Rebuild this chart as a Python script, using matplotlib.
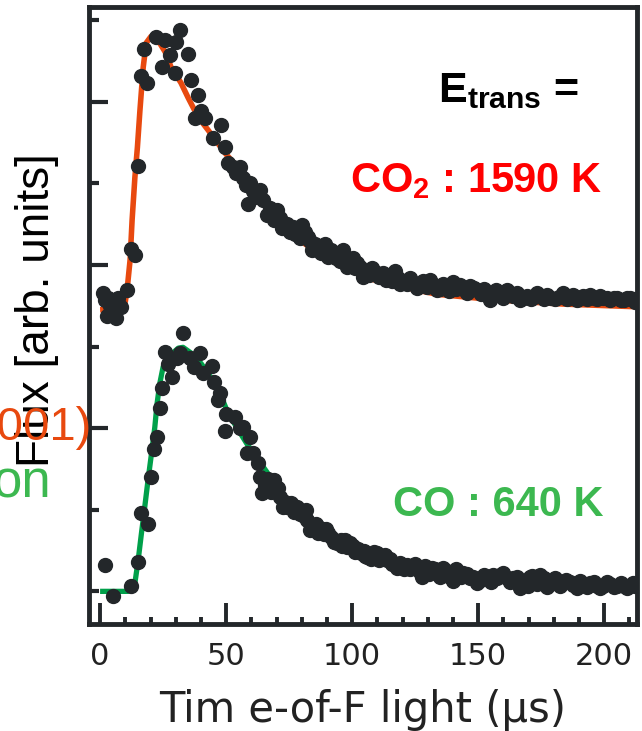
import matplotlib
matplotlib.use("Agg")
import matplotlib.pyplot as plt
from matplotlib.ticker import FixedLocator, NullFormatter

plt.rcParams["font.family"] = ["Liberation Sans", "DejaVu Sans"]
plt.rcParams["mathtext.fontset"] = "custom"
plt.rcParams["mathtext.rm"] = "Liberation Sans"
plt.rcParams["mathtext.bf"] = "Liberation Sans:bold"

# time-of-flight axis (us)
x_ticks = [0, 50, 100, 150, 200]

# CO2 (upper trace, offset) - measured points
co2_t = [1.2, 2.0, 2.8, 3.2, 4.0, 5.2, 6.3, 7.1, 8.3, 10.7, 12.3, 13.9, 15.1, 16.3,
         17.5, 18.7, 22.2, 24.6, 25.8, 27.8, 29.8, 30.2, 31.7, 34.9, 36.1, 37.7,
         38.9, 40.1, 41.7, 44.8, 48.0, 49.6, 50.8, 52.8, 55.6, 56.7, 58.7, 59.5,
         60.7, 62.3, 64.7, 66.3, 70.2, 72.2, 76.6, 78.2, 80.2, 82.5, 84.1, 86.1,
         89.3, 92.5, 96.4, 98.0, 100.4, 102.0, 104.4, 107.9, 112.3, 117.1, 119.0,
         123.0, 127.0, 131.0, 133.7, 136.1, 140.1, 144.0, 146.8, 149.6, 152.4,
         154.8, 158.3, 161.5, 163.9, 166.7, 169.4, 173.4, 177.4, 180.6, 183.7,
         186.5, 189.3, 191.7, 194.4, 197.2, 199.6, 202.4, 205.2, 207.9, 210.3, 212.3,
         54.0, 57.7, 61.5, 63.5, 67.5, 68.8, 71.2, 74.0, 75.3, 77.4, 79.3, 81.3,
         83.3, 85.1, 87.5, 88.3, 90.6, 91.5, 93.5, 95.0, 97.2, 99.2, 101.2, 103.2,
         105.5, 106.8, 109.0, 110.5, 113.5, 115.0, 116.0, 118.0, 120.3, 121.6,
         124.5, 125.8, 128.3, 129.5, 132.3, 134.9, 137.3, 138.6, 141.3, 142.7,
         145.5, 148.2, 151.0, 153.5, 156.0, 157.0, 159.8, 160.2, 162.7, 165.2,
         168.0, 170.8, 172.2, 174.8, 176.2, 178.8, 182.2, 185.2, 187.8, 190.5,
         193.0, 195.8, 198.4, 201.0, 203.8, 206.5, 209.0, 211.5]
co2_y = [3.65, 3.57, 3.38, 3.59, 3.50, 3.53, 3.35, 3.60, 3.48, 3.69, 4.20, 4.12, 5.21, 6.32,
         6.64, 6.23, 6.79, 6.42, 6.75, 6.57, 6.35, 6.73, 6.88, 6.59, 6.26, 5.80,
         6.08, 5.89, 5.80, 5.55, 5.71, 5.44, 5.25, 5.20, 5.20, 5.07, 4.75, 5.00,
         4.91, 4.88, 4.79, 4.61, 4.67, 4.45, 4.46, 4.42, 4.49, 4.34, 4.18, 4.20,
         4.26, 4.14, 4.18, 3.97, 4.09, 4.02, 3.85, 3.96, 3.90, 3.93, 3.77,
         3.84, 3.77, 3.82, 3.69, 3.76, 3.79, 3.71, 3.74, 3.69, 3.71,
         3.57, 3.64, 3.69, 3.62, 3.57, 3.62, 3.66, 3.63, 3.58, 3.65,
         3.60, 3.57, 3.62, 3.63, 3.58, 3.60, 3.57, 3.59, 3.57, 3.60, 3.54,
         5.12, 4.98, 4.83, 4.92, 4.70, 4.55, 4.58, 4.50, 4.40, 4.38, 4.33, 4.40,
         4.29, 4.26, 4.14, 4.22, 4.10, 4.18, 4.08, 4.05, 4.10, 4.01, 3.96, 3.98,
         3.93, 3.88, 3.91, 3.85, 3.82, 3.86, 3.80, 3.84, 3.80, 3.76,
         3.78, 3.72, 3.80, 3.73, 3.75, 3.70, 3.72, 3.68, 3.70, 3.75,
         3.66, 3.72, 3.64, 3.67, 3.62, 3.69, 3.59, 3.63, 3.66, 3.65,
         3.60, 3.58, 3.61, 3.62, 3.58, 3.60, 3.61, 3.58, 3.63, 3.60,
         3.58, 3.60, 3.62, 3.60, 3.60, 3.57, 3.59, 3.58]

# CO2 fit curve
co2_fit_t = [0, 8, 10, 10.7, 11.9, 12.7, 13.8, 14.8, 15.8, 17.1, 18.3, 20.2, 23.0, 25.8,
             28.2, 32.1, 34.9, 38.9, 42.9, 49.6, 55.6, 62.3, 68.7, 76.6, 82.1, 91.3,
             108.3, 125.8, 133.7, 157.5, 183.7, 210.3, 213]
co2_fit_y = [3.45, 3.46, 3.55, 3.69, 4.06, 4.55, 5.07, 5.44, 5.89, 6.42, 6.72, 6.80, 6.75, 6.61,
             6.42, 6.23, 6.05, 5.81, 5.65, 5.37, 5.16, 4.86, 4.63, 4.36, 4.24, 4.06,
             3.82, 3.69, 3.64, 3.57, 3.52, 3.49, 3.49]

# CO (lower trace) - measured points
co_t = [2.0, 5.2, 12.3, 15.1, 16.3, 19.0, 20.2, 21.4, 22.4, 23.6, 24.6, 25.6, 27.0, 28.4,
        30.6, 31.7, 32.9, 35.7, 37.3, 39.7, 40.9, 44.2, 45.2, 46.8, 47.6, 49.6, 50.0,
        53.6, 55.6, 56.7, 58.3, 59.5, 60.7, 62.7, 64.3, 67.5, 69.0, 70.6, 72.6, 74.2,
        78.2, 82.1, 83.3, 84.5, 87.3, 90.5, 94.0, 97.2, 99.2, 101.2, 103.6, 106.0,
        109.9, 111.9, 113.9, 115.9, 117.9, 119.8, 121.8, 123.8, 125.8, 127.8, 129.8,
        131.7, 134.1, 136.1, 138.1, 140.1, 142.1, 144.0, 146.8, 149.6, 151.6, 153.6,
        156.0, 158.7, 161.5, 163.9, 166.7, 168.7, 170.6, 172.6, 174.6, 177.4, 179.4,
        181.3, 183.7, 186.5, 189.3, 191.7, 194.4, 197.2, 199.6, 202.4, 205.2, 207.9,
        210.3, 212.3,
        63.5, 65.5, 66.5, 68.0, 71.5, 73.5, 75.6, 77.0, 79.5, 80.8, 81.5, 85.8,
        86.5, 88.8, 89.5, 91.5, 92.8, 95.5, 96.0, 98.0, 100.2, 102.3, 104.8, 105.0,
        107.5, 108.5, 110.5, 113.0, 115.0, 117.0, 119.0, 120.5, 122.8, 124.8,
        126.8, 128.8, 130.5, 133.0, 135.0, 137.0, 139.0, 141.0, 143.0, 145.5,
        148.0, 150.5, 152.5, 155.0, 157.5, 160.0, 162.5, 165.2, 167.5, 169.8,
        171.5, 173.5, 176.0, 178.5, 180.5, 182.5, 185.0, 187.8, 190.5, 193.0,
        195.8, 198.4, 201.0, 203.8, 206.5, 209.0, 211.5]
co_y = [0.32, -0.06, 0.06, 0.36, 0.96, 0.83, 1.40, 1.75, 1.89, 2.25, 2.49, 2.93, 2.79, 2.63,
        2.86, 2.92, 3.16, 2.86, 2.75, 2.92, 2.68, 2.76, 2.56, 2.34, 2.43, 1.97, 2.17,
        2.14, 2.00, 2.01, 1.70, 1.89, 1.69, 1.57, 1.20, 1.32, 1.36, 1.27, 1.03, 1.03,
        1.03, 0.87, 0.75, 0.78, 0.78, 0.71, 0.59, 0.63, 0.59, 0.48, 0.47, 0.42,
        0.47, 0.42, 0.38, 0.34, 0.29, 0.31, 0.32, 0.31, 0.29, 0.17, 0.26,
        0.29, 0.23, 0.29, 0.22, 0.13, 0.22, 0.23, 0.16, 0.10, 0.16, 0.17,
        0.20, 0.20, 0.16, 0.16, 0.04, 0.13, 0.17, 0.13, 0.20, 0.05, 0.11,
        0.13, 0.11, 0.11, 0.04, 0.09, 0.10, 0.07, 0.07, 0.09, 0.07, 0.06,
        0.07, 0.07,
        1.40, 1.30, 1.38, 1.22, 1.15, 1.10, 1.08, 0.97, 0.95, 0.92, 1.00, 0.82,
        0.72, 0.70, 0.77, 0.66, 0.60, 0.63, 0.55, 0.54, 0.56, 0.52, 0.50, 0.43,
        0.40, 0.48, 0.38, 0.45, 0.40, 0.34, 0.35, 0.27, 0.28, 0.34,
        0.24, 0.31, 0.21, 0.27, 0.18, 0.26, 0.18, 0.27, 0.18, 0.21,
        0.18, 0.13, 0.20, 0.12, 0.16, 0.22, 0.11, 0.18, 0.10, 0.07,
        0.19, 0.09, 0.16, 0.09, 0.16, 0.06, 0.14, 0.08, 0.13, 0.05,
        0.11, 0.04, 0.11, 0.05, 0.10, 0.04, 0.10]

# CO fit curve
co_fit_t = [0, 11.1, 13.8, 15.1, 16.4, 17.7, 19.0, 20.4, 21.7, 22.6, 23.7, 25.0, 27.0, 31.0,
            32.9, 36.1, 40.1, 44.0, 47.5, 50.8, 56.0, 58.2, 66.2, 72.6, 79.4, 89.3, 99.2,
            119.0, 138.9, 158.7, 178.6, 198.4, 213]
co_fit_y = [0.0, 0.0, 0.10, 0.38, 0.71, 1.03, 1.36, 1.69, 2.01, 2.30, 2.55, 2.75, 2.87, 2.98,
            2.99, 2.92, 2.79, 2.62, 2.43, 2.18, 1.92, 1.81, 1.46, 1.15, 0.96, 0.72, 0.56,
            0.36, 0.22, 0.15, 0.11, 0.09, 0.07]

dark = "#23272a"
orange = "#e8490f"
green_line = "#00a04a"
green_text = "#3cb850"

W, H = 642, 731
fig = plt.figure(figsize=(W / 100, H / 100), dpi=100)
ax = fig.add_axes([89 / W, 1 - 624 / H, (637 - 89) / W, (624 - 7) / H])

ax.plot(co2_fit_t, co2_fit_y, color=orange, lw=4, zorder=2, solid_capstyle="butt")
ax.plot(co_fit_t, co_fit_y, color=green_line, lw=3.8, zorder=2, solid_capstyle="butt")
ax.plot(co2_t, co2_y, "o", color=dark, ms=10, mec=dark, zorder=3)
ax.plot(co_t, co_y, "o", color=dark, ms=10, mec=dark, zorder=3)

ax.set_xlim(-4.4, 213)
ax.set_ylim(-0.40, 7.16)

for s in ax.spines.values():
    s.set_linewidth(3.5)
    s.set_color(dark)

ax.xaxis.set_major_locator(FixedLocator(x_ticks))
ax.xaxis.set_minor_locator(FixedLocator([t for t in range(10, 220, 10) if t % 50]))
ax.yaxis.set_major_locator(FixedLocator([2, 4, 6]))
ax.yaxis.set_minor_locator(FixedLocator([0, 1, 3, 5, 7]))
ax.yaxis.set_major_formatter(NullFormatter())
ax.tick_params(axis="x", which="major", direction="in", length=15, width=2.8,
               color=dark, labelsize=22, labelcolor="#222222", pad=13)
ax.tick_params(axis="x", which="minor", direction="in", length=5, width=2.8, color=dark)
ax.tick_params(axis="y", which="major", direction="in", length=14, width=3, color=dark)
ax.tick_params(axis="y", which="minor", direction="in", length=7, width=3, color=dark)
for lbl in ax.get_xticklabels():
    lbl.set_family("DejaVu Sans")

fig.text(363 / W, 1 - 722 / H, "Tim e-of-F light (µs)", ha="center", va="baseline",
         fontsize=30, color="#222222", family="DejaVu Sans")
fig.text(37 / W, 1 - 310 / H, "Flux [arb. units]", rotation=90, ha="center",
         va="center", fontsize=33, color="black")
fig.text(91 / W, 1 - 440 / H, "(001)", ha="right", va="baseline", fontsize=34,
         color=orange)
fig.text(51 / W, 1 - 498 / H, "on", ha="right", va="baseline", fontsize=38,
         color=green_text)

fig.text(438 / W, 1 - 102 / H, r"E$_{\mathbf{trans}}$ =", ha="left", va="baseline",
         fontsize=31, fontweight="bold", color="black")
fig.text(350 / W, 1 - 192 / H, r"CO$_{\mathbf{2}}$ : 1590 K", ha="left", va="baseline",
         fontsize=30, fontweight="bold", color="#ff0000")
fig.text(393 / W, 1 - 516 / H, "CO : 640 K", ha="left", va="baseline",
         fontsize=30, fontweight="bold", color=green_text)

fig.savefig("out.png", dpi=100)
